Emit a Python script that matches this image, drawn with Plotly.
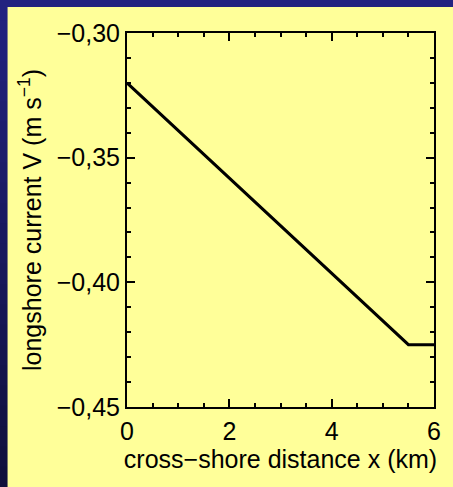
import plotly.graph_objects as go

# data
x_km = [0.0, 5.5, 6.0]
v_ms = [-0.32, -0.425, -0.425]

x_range = [0, 6]
y_range = [-0.45, -0.30]

FONT = "Liberation Sans, Arial, sans-serif"
FS = 25
YELLOW = "#FFFF99"
BLUE_TOP = (0x22, 0x22, 0x80)
BLUE_BOT = (0x10, 0x10, 0x3C)

fig = go.Figure()
fig.add_trace(go.Scatter(x=x_km, y=v_ms, mode="lines",
                         line=dict(color="black", width=3),
                         showlegend=False, hoverinfo="skip"))

# plot area in pixels: x 127..438, y 33..407
W, H = 453, 487
L, R, T, B = 127, 15, 33, 80
pw, ph = W - L - R, H - T - B

def px2fx(p):
    return (p - L) / pw

def py2fy(p):
    return (H - B - p) / ph

shapes = []
n = 24
for i in range(n):
    f = i / (n - 1)
    c = tuple(round(a + (b - a) * f) for a, b in zip(BLUE_TOP, BLUE_BOT))
    y0p = H * i / n
    y1p = H * (i + 1) / n + 1
    shapes.append(dict(type="rect", xref="paper", yref="paper", layer="below",
                       x0=px2fx(-5), x1=px2fx(W + 5), y0=py2fy(y1p), y1=py2fy(y0p),
                       fillcolor="rgb(%d,%d,%d)" % c, line=dict(width=0)))
shapes.append(dict(type="rect", xref="paper", yref="paper", layer="below",
                   x0=px2fx(6), x1=px2fx(W + 5), y0=py2fy(H + 5), y1=py2fy(7),
                   fillcolor=YELLOW, line=dict(width=0)))

axis_common = dict(
    showgrid=False, zeroline=False, showline=True, linecolor="black",
    linewidth=2, mirror="ticks", ticks="inside", ticklen=8, tickwidth=2,
    tickcolor="black", tickfont=dict(family=FONT, size=FS, color="black"),
)

fig.update_layout(
    width=W, height=H,
    margin=dict(l=L, r=R, t=T, b=B),
    paper_bgcolor="rgb(%d,%d,%d)" % BLUE_TOP, plot_bgcolor=YELLOW,
    separators=",.",
    shapes=shapes,
    xaxis=dict(range=x_range, dtick=2, tick0=0, ticklabelstandoff=1,
               minor=dict(dtick=0.5, ticks="inside", ticklen=4, tickwidth=2, tickcolor="black"),
               title=dict(text="cross−shore distance x (km)", standoff=3,
                          font=dict(family=FONT, size=FS, color="black")),
               **axis_common),
    yaxis=dict(range=y_range, dtick=0.05, tick0=-0.45, tickformat=".2f",
               minor=dict(dtick=0.01, ticks="inside", ticklen=4, tickwidth=2, tickcolor="black"),
               title=dict(text="longshore current V (m s<sup>−1</sup>)", standoff=8,
                          font=dict(family=FONT, size=FS, color="black")),
               **axis_common),
)

fig.write_html("out.html")
